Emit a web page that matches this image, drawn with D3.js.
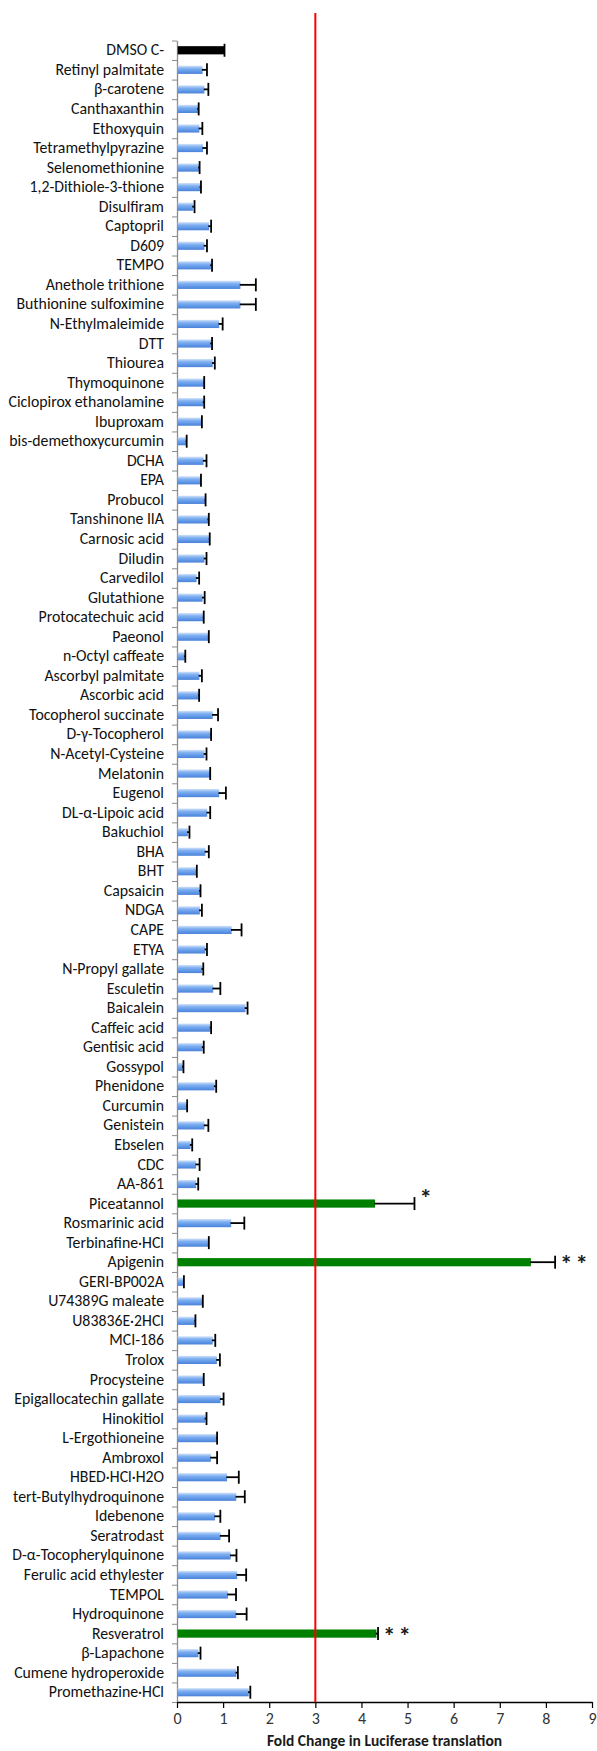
<!DOCTYPE html>
<html>
<head>
<meta charset="utf-8">
<script src="https://cdn.jsdelivr.net/npm/d3@7"></script>
<style>
  body { margin: 0; background: #fff; }
  svg text { font-family: Calibri, Carlito, Lato, sans-serif; }
</style>
</head>
<body>
<svg id="chart" width="597" height="1751"></svg>
<script>
var compounds = ["DMSO C-","Retinyl palmitate","β-carotene","Canthaxanthin","Ethoxyquin","Tetramethylpyrazine",
  "Selenomethionine","1,2-Dithiole-3-thione","Disulfiram","Captopril","D609","TEMPO","Anethole trithione",
  "Buthionine sulfoximine","N-Ethylmaleimide","DTT","Thiourea","Thymoquinone","Ciclopirox ethanolamine",
  "Ibuproxam","bis-demethoxycurcumin","DCHA","EPA","Probucol","Tanshinone IIA","Carnosic acid","Diludin",
  "Carvedilol","Glutathione","Protocatechuic acid","Paeonol","n-Octyl caffeate","Ascorbyl palmitate",
  "Ascorbic acid","Tocopherol succinate","D-γ-Tocopherol","N-Acetyl-Cysteine","Melatonin","Eugenol",
  "DL-α-Lipoic acid","Bakuchiol","BHA","BHT","Capsaicin","NDGA","CAPE","ETYA","N-Propyl gallate",
  "Esculetin","Baicalein","Caffeic acid","Gentisic acid","Gossypol","Phenidone","Curcumin","Genistein",
  "Ebselen","CDC","AA-861","Piceatannol","Rosmarinic acid","Terbinafine·HCl","Apigenin","GERI-BP002A",
  "U74389G maleate","U83836E·2HCl","MCI-186","Trolox","Procysteine","Epigallocatechin gallate",
  "Hinokitiol","L-Ergothioneine","Ambroxol","HBED·HCl·H2O","tert-Butylhydroquinone","Idebenone",
  "Seratrodast","D-α-Tocopherylquinone","Ferulic acid ethylester","TEMPOL","Hydroquinone","Resveratrol",
  "β-Lapachone","Cumene hydroperoxide","Promethazine·HCl"];

var foldChange = [1.01,0.54,0.58,0.44,0.47,0.55,0.46,0.49,0.33,0.68,0.58,0.72,1.36,
  1.36,0.90,0.72,0.76,0.58,0.56,0.52,0.19,0.56,0.51,0.60,0.66,0.69,0.58,
  0.41,0.54,0.56,0.67,0.15,0.47,0.46,0.76,0.72,0.58,0.71,0.90,
  0.64,0.22,0.60,0.41,0.48,0.48,1.17,0.60,0.53,0.77,1.47,0.71,0.54,0.11,0.80,0.20,0.58,
  0.28,0.40,0.40,4.28,1.16,0.68,7.66,0.13,0.54,0.38,0.76,0.85,0.56,0.93,
  0.60,0.85,0.72,1.07,1.27,0.81,0.93,1.15,1.29,1.09,1.27,4.31,0.45,1.27,1.54];

var errors = [0.02,0.11,0.10,0.03,0.08,0.10,0.03,0.03,0.05,0.06,0.07,0.04,0.35,
  0.35,0.09,0.04,0.06,0.01,0.03,0.02,0.02,0.08,0.01,0.02,0.03,0.02,0.06,
  0.07,0.06,0.02,0.02,0.03,0.07,0.02,0.13,0.02,0.06,0.01,0.16,
  0.08,0.05,0.09,0.02,0.03,0.06,0.23,0.05,0.04,0.17,0.06,0.03,0.04,0.03,0.05,0.02,0.10,
  0.05,0.09,0.06,0.87,0.30,0.01,0.54,0.02,0.02,0.02,0.07,0.08,0.02,0.08,
  0.04,0.02,0.15,0.27,0.20,0.13,0.20,0.14,0.21,0.19,0.24,0.05,0.06,0.05,0.05];

var control = ["DMSO C-"];
var hits = ["Piceatannol","Apigenin","Resveratrol"];
var significance = {"Piceatannol":"*","Apigenin":"**","Resveratrol":"**"};
var xTicks = [0,1,2,3,4,5,6,7,8,9];
var threshold = 3;
var xTitle = "Fold Change in Luciferase translation";

var svg = d3.select("#chart");
var plotL = 177, plotR = 592, plotT = 40.5, plotB = 1702;
var fontFam = "Calibri, Carlito, Lato, sans-serif";

var x = d3.scaleLinear().domain([0, 9]).range([plotL, plotR]);
var y = d3.scaleBand().domain(compounds).range([plotT, plotB]).padding(0);
var barH = 8.2;

var defs = svg.append("defs");
var grad = defs.append("linearGradient").attr("id", "blueGrad")
  .attr("x1", 0).attr("y1", 0).attr("x2", 0).attr("y2", 1);
grad.append("stop").attr("offset", "0%").attr("stop-color", "#d3e3fa");
grad.append("stop").attr("offset", "35%").attr("stop-color", "#80b0f0");
grad.append("stop").attr("offset", "70%").attr("stop-color", "#5f97e8");
grad.append("stop").attr("offset", "100%").attr("stop-color", "#4c82d6");

var data = compounds.map(function(c, i){
  return {name: c, value: foldChange[i], err: errors[i]};
});

function barColor(d){
  if (control.indexOf(d.name) >= 0) return "#000";
  if (hits.indexOf(d.name) >= 0) return "#008000";
  return "url(#blueGrad)";
}

// y axis: tick marks between categories
var yIdx = d3.scaleLinear().domain([0, compounds.length]).range([plotT, plotB]);
var yAxisG = svg.append("g").attr("transform", "translate(" + plotL + ",0)")
  .call(d3.axisLeft(yIdx).tickValues(d3.range(compounds.length + 1)).tickFormat("").tickSize(5).tickSizeOuter(0));
yAxisG.selectAll("line").attr("stroke", "#8c8c8c").attr("stroke-width", 1);
yAxisG.select(".domain").attr("stroke", "#8c8c8c").attr("stroke-width", 1.3);

// labels
var labG = svg.append("g").attr("transform", "translate(" + plotL + ",0)")
  .call(d3.axisLeft(y).tickSize(0).tickPadding(13));
labG.select(".domain").remove();
labG.selectAll("text").attr("font-size", 15.8).attr("fill", "#111")
  .style("font-family", fontFam);

// bars
svg.append("g").selectAll("rect").data(data).enter().append("rect")
  .attr("x", x(0) + 0.7)
  .attr("y", function(d){ return y(d.name) + y.bandwidth() / 2 - barH / 2; })
  .attr("width", function(d){ return x(d.value) - x(0); })
  .attr("height", barH)
  .attr("fill", barColor);

// error bars
var eb = svg.append("g").attr("stroke", "#000").attr("stroke-width", 1.8);
eb.selectAll("line.stem").data(data).enter().append("line").attr("class", "stem")
  .attr("x1", function(d){ return x(d.value); })
  .attr("x2", function(d){ return x(d.value + d.err); })
  .attr("y1", function(d){ return y(d.name) + y.bandwidth() / 2; })
  .attr("y2", function(d){ return y(d.name) + y.bandwidth() / 2; });
eb.selectAll("line.cap").data(data).enter().append("line").attr("class", "cap")
  .attr("x1", function(d){ return x(d.value + d.err); })
  .attr("x2", function(d){ return x(d.value + d.err); })
  .attr("y1", function(d){ return y(d.name) + y.bandwidth() / 2 - 6.5; })
  .attr("y2", function(d){ return y(d.name) + y.bandwidth() / 2 + 6.5; });

// significance stars
svg.append("g").selectAll("text").data(data.filter(function(d){ return significance[d.name]; }))
  .enter().append("text")
  .attr("x", function(d){ return x(d.value + d.err) + 5; })
  .attr("y", function(d){ return y(d.name) + y.bandwidth() / 2 + (d.name === "Piceatannol" ? 2 : 10); })
  .attr("font-size", 25).attr("font-weight", "bold").attr("fill", "#1a1a1a")
  .attr("letter-spacing", 3)
  .text(function(d){ return significance[d.name]; });

// x axis
var xAxisG = svg.append("g").attr("transform", "translate(0," + plotB + ")")
  .call(d3.axisBottom(x).tickValues(xTicks).tickSize(6).tickPadding(5).tickSizeOuter(0));
xAxisG.select(".domain").attr("stroke", "#000").attr("stroke-width", 1.4);
xAxisG.selectAll("line").attr("stroke", "#000").attr("stroke-width", 1.2);
xAxisG.selectAll("text").attr("font-size", 16).attr("fill", "#333")
  .style("font-family", fontFam);

// threshold line
svg.append("line")
  .attr("x1", x(threshold)).attr("x2", x(threshold))
  .attr("y1", 13).attr("y2", plotB)
  .attr("stroke", "#ff0000").attr("stroke-width", 2);

// axis title
svg.append("text")
  .attr("x", (plotL + plotR) / 2).attr("y", 1746)
  .attr("text-anchor", "middle")
  .attr("font-size", 15.5).attr("font-weight", "bold").attr("fill", "#1a1a1a")
  .text(xTitle);
</script>
</body>
</html>
